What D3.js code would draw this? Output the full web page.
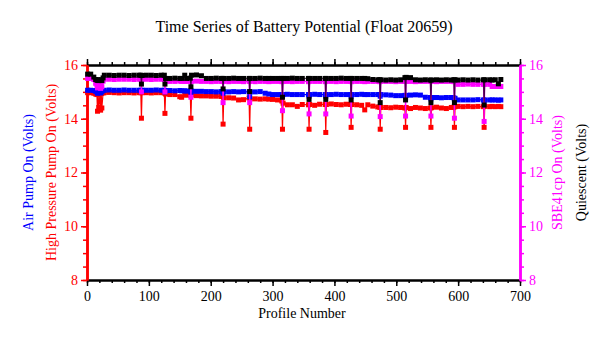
<!DOCTYPE html>
<html>
<head>
<meta charset="utf-8">
<script src="https://cdn.jsdelivr.net/npm/d3@7"></script>
<style>
  html, body { margin: 0; padding: 0; background: #fff; }
  svg { display: block; }
  text { font-family: "Liberation Serif", "DejaVu Serif", serif; }
</style>
</head>
<body>
<svg id="chart" width="604" height="338"></svg>
<script>
// ---- Data ----
const title = "Time Series of Battery Potential (Float 20659)";
const xTicks = [0, 100, 200, 300, 400, 500, 600, 700];
const yTicks = [8, 10, 12, 14, 16];

const profiles = [
  1, 6, 11, 14, 16, 17, 18, 19, 21, 22, 23, 24, 26, 28, 36, 44, 52, 60, 68, 76, 84, 87, 88, 89,
  96, 104, 112, 120, 125, 126, 127, 134, 142, 150, 153, 158, 161, 167, 168, 169, 177, 185, 193,
  201, 209, 217, 219, 220, 221, 229, 237, 245, 253, 262, 263, 264, 272, 280, 288, 294, 300, 308,
  315, 316, 317, 324, 332, 340, 348, 358, 359, 360, 368, 376, 385, 386, 387, 395, 403, 411, 419,
  426, 427, 428, 436, 444, 449, 454, 462, 470, 473, 474, 475, 483, 491, 499, 507, 514, 515, 516,
  523, 531, 539, 547, 555, 556, 557, 565, 573, 581, 589, 593, 594, 595, 600, 608, 616, 624, 632,
  641, 642, 643, 651, 655, 660, 665, 669
];

const quiescent = [
  15.66, 15.66, 15.55, 15.46, 15.44, 15.44, 15.43, 15.42, 15.44, 15.43, 15.45, 15.42, 15.52, 15.62,
  15.62, 15.61, 15.62, 15.62, 15.61, 15.62, 15.62, 15.62, 15.29, 15.61,
  15.62, 15.62, 15.61, 15.62, 15.62, 15.29, 15.50, 15.50, 15.51, 15.50, 15.50, 15.62, 15.50, 15.51,
  15.19, 15.62, 15.63, 15.60, 15.50,
  15.50, 15.51, 15.50, 15.50, 15.11, 15.50, 15.50, 15.51, 15.50, 15.50, 15.50, 15.01, 15.50, 15.50,
  15.51, 15.50, 15.50, 15.50, 15.50,
  15.50, 14.80, 15.50, 15.50, 15.51, 15.50, 15.50, 15.50, 14.72, 15.50, 15.50, 15.50, 15.50, 14.72,
  15.50, 15.50, 15.50, 15.51, 15.50,
  15.50, 14.70, 15.50, 15.50, 15.50, 15.50, 15.49, 15.46, 15.45, 15.45, 14.60, 15.45, 15.44, 15.45,
  15.44, 15.45, 15.53, 14.70, 15.54,
  15.53, 15.45, 15.44, 15.45, 15.44, 14.60, 15.44, 15.45, 15.44, 15.45, 15.44, 15.45, 14.60, 15.45,
  15.44, 15.45, 15.44, 15.45, 15.44,
  15.45, 14.51, 15.45, 15.45, 15.44, 15.45, 15.30, 15.46
];

const sbe41cp = [
  15.50, 15.50, 15.46, 15.32, 15.25, 15.15, 15.22, 15.16, 15.22, 15.13, 15.24, 15.19, 15.40, 15.47,
  15.47, 15.46, 15.47, 15.47, 15.47, 15.46, 15.47, 15.47, 15.00, 15.47,
  15.47, 15.46, 15.47, 15.47, 15.46, 15.00, 15.40, 15.39, 15.39, 15.40, 15.39, 15.39, 15.39, 15.39,
  14.80, 15.39, 15.40, 15.39, 15.39,
  15.38, 15.39, 15.39, 15.39, 14.60, 15.39, 15.38, 15.39, 15.39, 15.38, 15.39, 14.60, 15.39, 15.38,
  15.39, 15.39, 15.38, 15.39, 15.39,
  15.38, 14.30, 15.39, 15.39, 15.38, 15.39, 15.39, 15.38, 14.18, 15.39, 15.39, 15.39, 15.38, 14.18,
  15.39, 15.39, 15.38, 15.39, 15.39,
  15.39, 14.10, 15.38, 15.39, 15.39, 15.38, 15.39, 15.39, 15.39, 15.38, 14.08, 15.39, 15.39, 15.39,
  15.38, 15.39, 15.39, 14.10, 15.39,
  15.39, 15.38, 15.39, 15.39, 15.39, 14.10, 15.39, 15.38, 15.39, 15.39, 15.39, 15.38, 14.02, 15.39,
  15.28, 15.28, 15.29, 15.28, 15.28,
  15.28, 13.90, 15.28, 15.28, 15.20, 15.20, 15.20, 15.20
];

const airPump = [
  15.06, 15.06, 15.05, 15.02, 15.00, 14.95, 15.00, 14.97, 15.02, 14.96, 15.03, 15.00, 15.05, 15.06,
  15.07, 15.06, 15.06, 15.07, 15.06, 15.06, 15.06, 15.06, 15.02, 15.06,
  15.06, 15.06, 15.07, 15.06, 15.06, 15.00, 15.05, 15.05, 15.04, 15.05, 15.04, 15.04, 15.03, 15.03,
  14.98, 15.03, 15.02, 15.02, 15.01,
  15.01, 15.00, 15.01, 15.01, 14.95, 15.01, 15.00, 15.01, 15.00, 15.01, 15.00, 14.82, 15.00, 15.00,
  15.01, 14.95, 14.92, 14.90, 14.90,
  14.90, 14.85, 14.90, 14.91, 14.90, 14.90, 14.90, 14.90, 14.84, 14.90, 14.91, 14.90, 14.90, 14.84,
  14.90, 14.90, 14.91, 14.90, 14.90,
  14.90, 14.84, 14.90, 14.90, 14.91, 14.90, 14.90, 14.90, 14.90, 14.90, 14.84, 14.90, 14.89, 14.88,
  14.86, 14.86, 14.87, 14.80, 14.87,
  14.88, 14.89, 14.88, 14.80, 14.79, 14.74, 14.79, 14.79, 14.78, 14.79, 14.79, 14.78, 14.72, 14.76,
  14.70, 14.70, 14.70, 14.70, 14.71,
  14.70, 14.66, 14.70, 14.70, 14.70, 14.70, 14.69, 14.70
];

const hpPump = [
  14.97, 14.97, 14.95, 14.92, 14.90, 14.28, 14.92, 14.42, 14.93, 14.32, 14.94, 14.40, 14.96, 14.97,
  14.98, 14.97, 14.96, 14.97, 14.97, 14.96, 14.97, 14.97, 14.02, 14.97,
  14.97, 14.96, 14.97, 14.97, 14.96, 14.20, 14.92, 14.90, 14.90, 14.82, 14.80, 14.89, 14.88, 14.88,
  14.02, 14.88, 14.86, 14.85, 14.85,
  14.84, 14.84, 14.83, 14.84, 13.80, 14.78, 14.78, 14.77, 14.70, 14.71, 14.77, 13.61, 14.74, 14.74,
  14.73, 14.74, 14.73, 14.72, 14.70,
  14.66, 13.61, 14.58, 14.52, 14.52, 14.46, 14.53, 14.52, 13.61, 14.53, 14.50, 14.54, 14.53, 13.49,
  14.53, 14.55, 14.53, 14.52, 14.54,
  14.53, 13.68, 14.53, 14.52, 14.50, 14.33, 14.52, 14.47, 14.44, 14.43, 13.61, 14.42, 14.42, 14.41,
  14.43, 14.42, 14.40, 13.68, 14.42,
  14.38, 14.42, 14.40, 14.38, 14.40, 13.68, 14.41, 14.43, 14.40, 14.38, 14.42, 14.43, 13.68, 14.45,
  14.46, 14.45, 14.46, 14.45, 14.46,
  14.45, 13.68, 14.46, 14.45, 14.46, 14.45, 14.46, 14.45
];

// ---- Layout ----
const svg = d3.select("#chart");
const x = d3.scaleLinear().domain([0, 700]).range([87, 520]);
const y = d3.scaleLinear().domain([8, 16]).range([280, 65]);
const FONT = 14;

// Title
svg.append("text").attr("x", 304).attr("y", 32).attr("text-anchor", "middle")
  .attr("font-size", 16).attr("fill", "#000").text(title);

// Bottom axis (black)
const xMinor = d3.range(0, 701, 20);
function styleAxis(g, color, width) {
  g.select(".domain").attr("stroke", color).attr("stroke-width", width);
  g.selectAll(".tick line").attr("stroke", color).attr("stroke-width", 1.5);
  g.selectAll("text").attr("fill", color).attr("font-size", FONT)
    .attr("font-family", '"Liberation Serif", "DejaVu Serif", serif');
}
const gxMinor = svg.append("g").attr("transform", "translate(0,280)")
  .call(d3.axisBottom(x).tickValues(xMinor).tickSize(3).tickFormat("").tickSizeOuter(0));
styleAxis(gxMinor, "#000", 2);
const gx = svg.append("g").attr("transform", "translate(0,280)")
  .call(d3.axisBottom(x).tickValues(xTicks).tickSize(6).tickPadding(5).tickFormat(d3.format("d")).tickSizeOuter(0));
styleAxis(gx, "#000", 2);

// Top axis (black, no labels)
const gtMinor = svg.append("g").attr("transform", "translate(0,65)")
  .call(d3.axisTop(x).tickValues(xMinor).tickSize(3).tickFormat("").tickSizeOuter(0));
styleAxis(gtMinor, "#000", 2);
const gt = svg.append("g").attr("transform", "translate(0,65)")
  .call(d3.axisTop(x).tickValues(xTicks).tickSize(6).tickFormat("").tickSizeOuter(0));
styleAxis(gt, "#000", 2);

// Left axis (red)
const yMinor = d3.range(8, 16.01, 0.5);
const glMinor = svg.append("g").attr("transform", "translate(87,0)")
  .call(d3.axisLeft(y).tickValues(yMinor).tickSize(4).tickFormat("").tickSizeOuter(0));
styleAxis(glMinor, "#ff0000", 2.5);
const gl = svg.append("g").attr("transform", "translate(87,0)")
  .call(d3.axisLeft(y).tickValues(yTicks).tickSize(6).tickPadding(3).tickFormat(d3.format("d")).tickSizeOuter(0));
styleAxis(gl, "#ff0000", 2.5);

// Right axis (magenta)
const grMinor = svg.append("g").attr("transform", "translate(520,0)")
  .call(d3.axisRight(y).tickValues(yMinor).tickSize(4).tickFormat("").tickSizeOuter(0));
styleAxis(grMinor, "#ff00ff", 2.5);
const gr = svg.append("g").attr("transform", "translate(520,0)")
  .call(d3.axisRight(y).tickValues(yTicks).tickSize(6).tickPadding(3).tickFormat(d3.format("d")).tickSizeOuter(0));
styleAxis(gr, "#ff00ff", 2.5);

// Axis titles
svg.append("text").attr("x", 302).attr("y", 318).attr("text-anchor", "middle")
  .attr("font-size", FONT).attr("fill", "#000").text("Profile Number");
function vLabel(cx, text, color) {
  svg.append("text").attr("transform", `translate(${cx},172.5) rotate(-90)`)
    .attr("text-anchor", "middle").attr("dy", "0.35em")
    .attr("font-size", FONT).attr("fill", color).text(text);
}
vLabel(28, "Air Pump On (Volts)", "#0000ff");
vLabel(51, "High Pressure Pump On (Volts)", "#ff0000");
vLabel(557, "SBE41cp On (Volts)", "#ff00ff");
vLabel(581, "Quiescent (Volts)", "#000000");

// ---- Series ----
const series = [
  { name: "High Pressure Pump On", values: hpPump, color: "#ff0000", opacity: 1 },
  { name: "Air Pump On", values: airPump, color: "#0000ff", opacity: 1 },
  { name: "SBE41cp On", values: sbe41cp, color: "#ff00ff", opacity: 1 },
  { name: "Quiescent", values: quiescent, color: "#000000", opacity: 0.72 }
];
const MS = 5;
series.forEach(s => {
  const pts = profiles.map((p, i) => [p, s.values[i]]);
  const g = svg.append("g").attr("class", "series");
  g.append("path").datum(pts)
    .attr("fill", "none").attr("stroke", s.color).attr("stroke-width", 1.2)
    .attr("stroke-opacity", s.opacity)
    .attr("d", d3.line().x(d => x(d[0])).y(d => y(d[1])));
  g.selectAll("rect").data(pts).join("rect")
    .attr("x", d => x(d[0]) - MS / 2).attr("y", d => y(d[1]) - MS / 2)
    .attr("width", MS).attr("height", MS).attr("fill", s.color);
});
</script>
</body>
</html>
